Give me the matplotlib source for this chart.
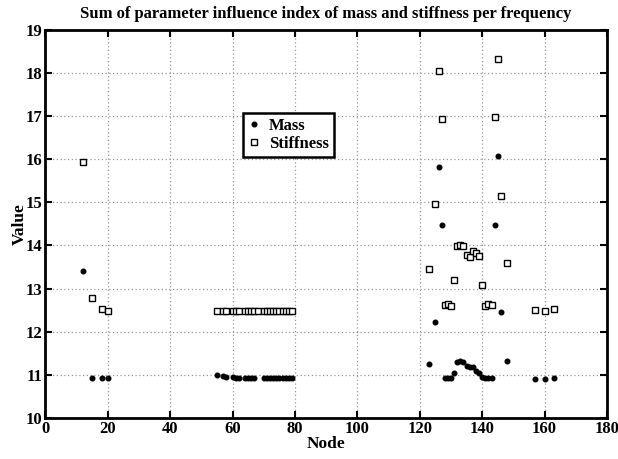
import matplotlib
matplotlib.use("Agg")
import matplotlib.pyplot as plt

# node numbers and summed influence values
mass_node = [12, 15, 18, 20,
             55, 57, 58, 60, 61, 62, 64, 65, 66, 67, 70, 71, 72, 73, 74, 75, 76, 77, 78, 79,
             123, 125, 126, 127, 128, 129, 130, 131, 132, 133, 134, 135, 136, 137, 138, 139,
             140, 141, 142, 143, 144, 145, 146, 148, 157, 160, 163]
mass_val = [13.41, 10.94, 10.93, 10.93,
            11.0, 10.98, 10.96, 10.95, 10.94, 10.94, 10.93, 10.93, 10.93, 10.93, 10.92, 10.92,
            10.92, 10.92, 10.92, 10.92, 10.92, 10.92, 10.92, 10.92,
            11.25, 12.22, 15.82, 14.47, 10.93, 10.93, 10.93, 11.04, 11.31, 11.32, 11.31, 11.22,
            11.18, 11.19, 11.09, 11.04, 10.95, 10.93, 10.93, 10.93, 14.48, 16.08, 12.47, 11.33,
            10.91, 10.91, 10.92]

stiff_node = [12, 15, 18, 20,
              55, 57, 58, 60, 61, 62, 64, 65, 66, 67, 68, 70, 71, 72, 73, 74, 75, 76, 77, 78, 79,
              123, 125, 126, 127, 128, 129, 130, 131, 132, 133, 134, 135, 136, 137, 138, 139,
              140, 141, 142, 143, 144, 145, 146, 148, 157, 160, 163]
stiff_val = [15.93, 12.79, 12.53, 12.49,
             12.48, 12.48, 12.48, 12.48, 12.48, 12.48, 12.48, 12.48, 12.48, 12.48, 12.48, 12.48,
             12.48, 12.48, 12.48, 12.48, 12.48, 12.48, 12.48, 12.48, 12.48,
             13.45, 14.95, 18.05, 16.93, 12.62, 12.64, 12.6, 13.2, 13.99, 14.0, 13.99, 13.78,
             13.74, 13.87, 13.82, 13.76, 13.08, 12.6, 12.64, 12.62, 16.97, 18.31, 15.15, 13.59,
             12.5, 12.49, 12.52]

plt.rcParams["font.family"] = ["Liberation Serif", "DejaVu Serif"]
plt.rcParams["font.weight"] = "bold"

fig = plt.figure(figsize=(6.18, 4.59), dpi=100)
ax = fig.add_axes([0.0736, 0.0889, 0.9085, 0.8468])

ax.plot(mass_node, mass_val, "o", ms=3.3, color="black", mec="black", label="Mass")
ax.plot(stiff_node, stiff_val, "s", ms=4.5, mfc="white", mec="black", mew=1.0,
        label="Stiffness")

ax.set_xlim(0, 180)
ax.set_ylim(10, 19)
ax.set_xticks(range(0, 181, 20))
ax.set_yticks(range(10, 20))
ax.grid(True, linestyle=(0, (1, 2)), color="#999999", linewidth=0.9)
ax.tick_params(direction="in", length=5, width=1.5, labelsize=12,
               top=True, right=True, pad=2)
for lab in ax.get_xticklabels() + ax.get_yticklabels():
    lab.set_fontweight("bold")
for s in ax.spines.values():
    s.set_linewidth(2)

ax.set_title("Sum of parameter influence index of mass and stiffness per frequency",
             fontsize=12, fontweight="bold", pad=8)
ax.set_xlabel("Node", fontsize=12.5, fontweight="bold", labelpad=-1)
ax.set_ylabel("Value", fontsize=12.5, fontweight="bold", labelpad=-1)

leg = ax.legend(loc="upper left", bbox_to_anchor=(0.351, 0.786), fancybox=False,
                edgecolor="black", framealpha=1, fontsize=12, handlelength=0.8,
                borderpad=0.3, labelspacing=0.15, handletextpad=0.5, borderaxespad=0)
leg.get_frame().set_linewidth(1.8)

fig.savefig("out.png", dpi=100)
